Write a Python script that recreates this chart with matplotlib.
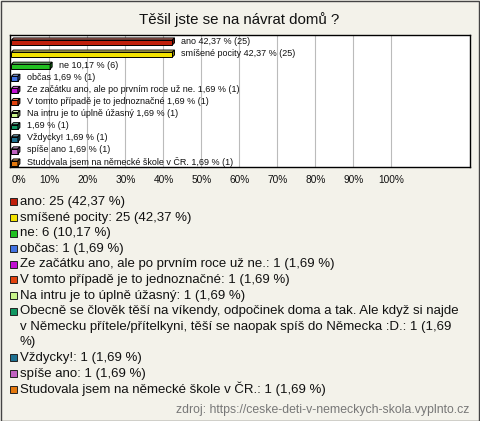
import matplotlib
matplotlib.use('Agg')
import matplotlib.pyplot as plt
from matplotlib.patches import Polygon, Rectangle
from matplotlib.colors import to_rgb

plt.rcParams['font.family'] = ['Liberation Sans', 'DejaVu Sans']

# --- data ---
answers = ['ano', 'smíšené pocity', 'ne', 'občas',
           'Ze začátku ano, ale po prvním roce už ne.',
           'V tomto případě je to jednoznačné',
           'Na intru je to úplně úžasný',
           'Obecně se člověk těší na víkendy, odpočinek doma a tak. Ale když si najde '
           'v Německu přítele/přítelkyni, těší se naopak spíš do Německa :D.',
           'Vždycky!', 'spíše ano',
           'Studovala jsem na německé škole v ČR.']
# short labels shown next to the bars (the long answer has none there)
bar_names = ['ano', 'smíšené pocity', 'ne', 'občas',
             'Ze začátku ano, ale po prvním roce už ne.',
             'V tomto případě je to jednoznačné',
             'Na intru je to úplně úžasný', '',
             'Vždycky!', 'spíše ano',
             'Studovala jsem na německé škole v ČR.']
counts = [25, 25, 6, 1, 1, 1, 1, 1, 1, 1, 1]
percents = [42.37, 42.37, 10.17, 1.69, 1.69, 1.69, 1.69, 1.69, 1.69, 1.69, 1.69]
colors = ['#C0200C', '#F2E200', '#22C022', '#4272E2', '#C20ED2', '#E2420E',
          '#C8F48A', '#129862', '#1E7090', '#C062C0', '#E4780E']
ticks = [0, 10, 20, 30, 40, 50, 60, 70, 80, 90, 100]

title = 'Těšil jste se na návrat domů ?'
source = 'zdroj: https://ceske-deti-v-nemeckych-skola.vyplnto.cz'

# --- layout ---
W, H = 480, 421
BG = '#F3F2EA'
fig = plt.figure(figsize=(W / 100, H / 100), dpi=100, facecolor=BG)


def fx(x):
    return x / W


def fy(y):
    return 1 - y / H


# outer frame
fig.add_artist(Rectangle((0.5 / W, 0.5 / H), 1 - 1.5 / W, 1 - 1.5 / H,
                         transform=fig.transFigure, facecolor='none',
                         edgecolor='#444444', lw=1))

fig.text(fx(239), fy(20), title, fontsize=10.8, ha='center', va='center', color='#111111')

ax = fig.add_axes([fx(10), fy(167), 460 / W, 132 / H])
ax.set_facecolor('white')
ax.set_xlim(-0.39, 120.66)
ax.set_ylim(10.41, -0.5)
for s in ax.spines.values():
    s.set_color('black')
    s.set_linewidth(1)
ax.set_yticks([])
ax.set_xticks(ticks)
ax.set_xticklabels([f'{t}%' for t in ticks], fontsize=7.3, color='#111111')
ax.get_xticklabels()[0].set_ha('left')
ax.tick_params(axis='x', length=0, pad=6)
for t in ticks[1:]:
    ax.axvline(t, color='#BBBBBB', lw=0.8, zorder=0)

# 3D bars
dx = 2 / 3.8   # depth in x units
dy = 2 / 12.1  # depth in y units
rows = list(range(len(percents)))
ax.barh([r + 0.11 for r in rows], percents, height=0.4, left=0,
        color=colors, edgecolor='black', linewidth=0.7, zorder=3)
for r, v, c in zip(rows, percents, colors):
    yt = r + 0.11 - 0.2
    yb = r + 0.11 + 0.2
    rgb = to_rgb(c)
    light = tuple(min(1, ch * 0.6 + 0.4) for ch in rgb)
    dark = tuple(ch * 0.6 for ch in rgb)
    ax.add_patch(Polygon([(0, yt), (dx, yt - dy), (v + dx, yt - dy), (v, yt)],
                         closed=True, facecolor=light, edgecolor='black', lw=0.7, zorder=3))
    ax.add_patch(Polygon([(v, yt), (v + dx, yt - dy), (v + dx, yb - dy), (v, yb)],
                         closed=True, facecolor=dark, edgecolor='black', lw=0.7, zorder=3))

for r, name, v, n in zip(rows, bar_names, percents, counts):
    pct = f'{v:.2f}'.replace('.', ',')
    lab = f'{name} {pct} % ({n})'.strip()
    ax.text(v + 2.3, r, lab, fontsize=6.5, va='center', ha='left', color='#111111', zorder=4)

# legend below the chart
line_h = 15.6
k = 0
for name, n, v, c in zip(answers, counts, percents, colors):
    pct = f'{v:.2f}'.replace('.', ',')
    text = f'{name}: {n} ({pct} %)'
    if len(text) > 80:
        lines = ['Obecně se člověk těší na víkendy, odpočinek doma a tak. Ale když si najde',
                 'v Německu přítele/přítelkyni, těší se naopak spíš do Německa :D.: 1 (1,69',
                 '%)']
    else:
        lines = [text]
    y0 = 202 + line_h * k
    fig.add_artist(Rectangle((fx(10), fy(y0 + 3.3)), 7 / W, 7 / H, transform=fig.transFigure,
                             facecolor=c, edgecolor='#222222', lw=0.7))
    for ln in lines:
        fig.text(fx(20), fy(202 + line_h * k), ln, fontsize=9.55, ha='left', va='center',
                 color='#111111')
        k += 1

fig.text(fx(469), fy(410), source, fontsize=8.8, ha='right', va='center', color='#777777')

fig.savefig('out.png', dpi=100, facecolor=BG)
